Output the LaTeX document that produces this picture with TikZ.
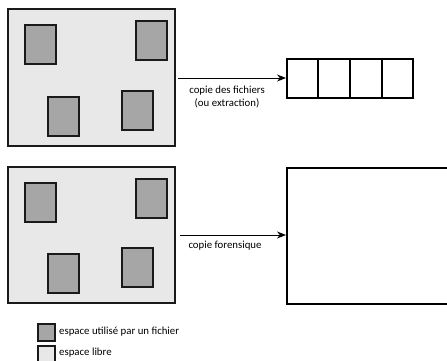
\documentclass[tikz,border=0pt]{standalone}
\usepackage{fontspec}
\setmainfont{Carlito}
\usetikzlibrary{arrows.meta}
\definecolor{diskfill}{HTML}{E8E8E8}
\definecolor{filefill}{HTML}{A6A6A6}
\definecolor{edge}{HTML}{1A1A1A}
\begin{document}
\begin{tikzpicture}[x=1pt,y=-1pt,
  disk/.style={draw=edge,line width=1.3pt,fill=diskfill},
  filebox/.style={draw=edge,line width=1.6pt,fill=filefill},
  cell/.style={draw=black,line width=1.8pt,fill=white,minimum height=39pt,inner sep=0pt,anchor=north west},
  arr/.style={-{Stealth[length=9pt,width=7pt]},line width=0.9pt},
  lbl/.style={font=\fontsize{10.8}{13}\selectfont,align=center,inner sep=0pt},
]
\useasboundingbox (0,0) rectangle (447,360);
% top disk
\path[disk] (8,9) rectangle (175,146);
\path[filebox] (25,25) rectangle (56,64);
\path[filebox] (136,21) rectangle (167,60);
\path[filebox] (48,97) rectangle (79,136);
\path[filebox] (122,91) rectangle (153,130);
% cells
\node[cell,minimum width=31pt] (c1) at (286,58) {};
\node[cell,minimum width=32pt] (c2) at (317,58) {};
\node[cell,minimum width=32pt] (c3) at (349,58) {};
\node[cell,minimum width=31pt] (c4) at (381,58) {};
\coordinate (a1s) at (178,78);
\draw[arr] (a1s) -- (c1.west |- a1s);
\node[lbl] (t1) at (227,96.5) {copie des fichiers\\(ou extraction)};
% bottom disk
\path[disk] (8,167) rectangle (175,303);
\path[filebox] (25,183) rectangle (56,222);
\path[filebox] (136,179) rectangle (167,218);
\path[filebox] (48,254) rectangle (79,293);
\path[filebox] (122,248) rectangle (153,287);
\node[cell,minimum width=161pt,minimum height=136pt] (big) at (286,167) {};
\coordinate (a2s) at (180,235);
\draw[arr] (a2s) -- (big.west |- a2s);
\node[lbl] (t2) at (225,246) {copie forensique};
% legend
\node[filebox,minimum width=17pt,minimum height=17pt,inner sep=0pt,anchor=north west] (l1) at (37,323) {};
\node[draw=edge,line width=1.6pt,fill=diskfill,minimum width=17pt,minimum height=17pt,inner sep=0pt,anchor=north west] (l2) at (37,345) {};
\node[lbl,anchor=west] (lt1) at (59,332) {espace utilisé par un fichier};
\node[lbl,anchor=west] (lt2) at (59,353) {espace libre};
\end{tikzpicture}
\end{document}
